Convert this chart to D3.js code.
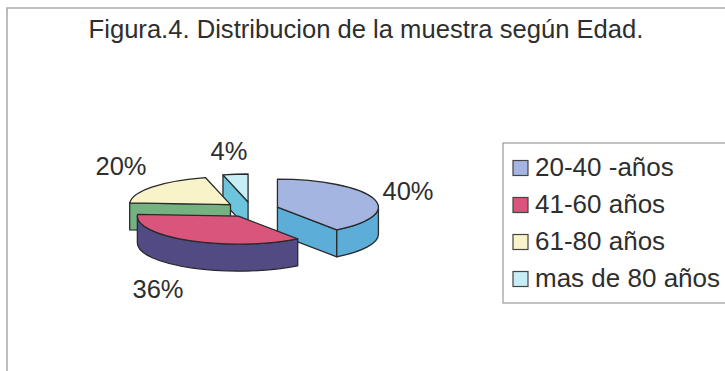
<!DOCTYPE html>
<html>
<head>
<meta charset="utf-8">
<script src="https://cdn.jsdelivr.net/npm/d3@7"></script>
<style>
  html, body { margin: 0; padding: 0; background: #fff; }
  svg { display: block; }
  text { font-family: "Liberation Sans", Arial, sans-serif; fill: #2e2e2e; }
</style>
</head>
<body>
<svg id="chart" width="725" height="371"></svg>
<script>
// ---- data ----
const title = "Figura.4. Distribucion de la muestra según Edad.";
const categories = ["20-40 -años", "41-60 años", "61-80 años", "mas de 80 años"];
const values = [40, 36, 20, 4];
const pctLabels = ["40%", "36%", "20%", "4%"];
const topColors = ["#a5b5e2", "#d9557c", "#f8f3c9", "#c8edf6"];
const sideColors = ["#5caed9", "#524a82", "#74b282", "#6cc5dc"];

// ---- layout ----
const svg = d3.select("#chart");

// outer frame
svg.append("rect").attr("x", 7).attr("y", 8).attr("width", 760).attr("height", 400)
  .attr("fill", "none").attr("stroke", "#a8a8a8").attr("stroke-width", 1.5);

svg.append("text").attr("x", 366).attr("y", 38).attr("text-anchor", "middle")
  .style("font-size", "25.6px").text(title);

// 3D pie geometry
const cx = 251.5, cy = 209.5, rx = 101, ry = 28, depth = 27, explode = 0.27;
const pie = d3.pie().sort(null).startAngle(0).endAngle(2 * Math.PI)(values);

function pt(c, a, dy) { return [c[0] + rx * Math.sin(a), c[1] - ry * Math.cos(a) + (dy || 0)]; }
function arcTo(c, a0, a1, dy) {
  const p = pt(c, a1, dy);
  const large = Math.abs(a1 - a0) > Math.PI ? 1 : 0;
  const sweep = a1 > a0 ? 1 : 0;
  return `A${rx},${ry} 0 ${large} ${sweep} ${p[0]},${p[1]}`;
}

const slices = pie.map((d, i) => {
  const mid = (d.startAngle + d.endAngle) / 2;
  const c = [cx + rx * explode * Math.sin(mid), cy - ry * explode * Math.cos(mid)];
  return { d, i, mid, c };
});
// painter's order: back to front
const order = slices.slice().sort((a, b) => (-Math.cos(a.mid)) - (-Math.cos(b.mid)));

const g = svg.append("g").attr("stroke", "#2a2a2a").attr("stroke-width", 1.3).attr("stroke-linejoin", "round");

order.forEach(s => {
  const { d, i, c } = s;
  const a0 = d.startAngle, a1 = d.endAngle;
  const sg = g.append("g");
  const walls = [];
  if (Math.sin(a0) < -1e-6) walls.push(a0);
  if (Math.sin(a1) > 1e-6) walls.push(a1);
  walls.forEach(a => {
    const p = pt(c, a);
    const path = `M${c[0]},${c[1]} L${p[0]},${p[1]} L${p[0]},${p[1] + depth} L${c[0]},${c[1] + depth} Z`;
    sg.append("path").attr("d", path).attr("fill", sideColors[i]);
  });
  const s0 = Math.max(a0, Math.PI / 2), s1 = Math.min(a1, 3 * Math.PI / 2);
  if (s1 > s0) {
    const p0 = pt(c, s0), p1 = pt(c, s1);
    const path = `M${p0[0]},${p0[1]} ${arcTo(c, s0, s1, 0)} L${p1[0]},${p1[1] + depth} ${arcTo(c, s1, s0, depth)} Z`;
    sg.append("path").attr("d", path).attr("fill", sideColors[i]);
  }
  const q0 = pt(c, a0);
  const top = `M${c[0]},${c[1]} L${q0[0]},${q0[1]} ${arcTo(c, a0, a1, 0)} Z`;
  sg.append("path").attr("d", top).attr("fill", topColors[i]);
});

// percentage labels
const labelPos = [[408, 200], [158, 298], [121, 175], [229, 160]];
pctLabels.forEach((t, i) => {
  svg.append("text").attr("x", labelPos[i][0]).attr("y", labelPos[i][1])
    .attr("text-anchor", "middle").style("font-size", "25.5px").text(t);
});

// legend
const lg = svg.append("g");
lg.append("rect").attr("x", 503).attr("y", 143).attr("width", 260).attr("height", 160)
  .attr("fill", "#fff").attr("stroke", "#9a9a9a").attr("stroke-width", 1.2);
const rowY = d3.scalePoint().domain(categories).range([176, 287]);
categories.forEach((cat, i) => {
  const y = rowY(cat);
  lg.append("rect").attr("x", 513).attr("y", y - 15.5).attr("width", 15).attr("height", 15)
    .attr("fill", topColors[i]).attr("stroke", "#444").attr("stroke-width", 1.2);
  lg.append("text").attr("x", 535).attr("y", y).style("font-size", "26px").text(cat);
});
</script>
</body>
</html>
